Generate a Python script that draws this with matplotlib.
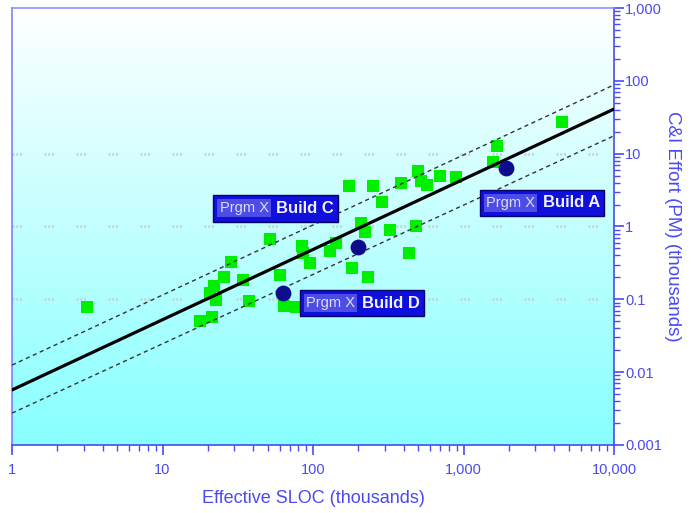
import numpy as np
import matplotlib.pyplot as plt
from matplotlib.ticker import FixedLocator, LogLocator, NullFormatter
from matplotlib.offsetbox import TextArea, HPacker, PaddedBox, AnnotationBbox

plt.rcParams["font.family"] = ["Liberation Sans", "DejaVu Sans"]

# historical projects (thousands SLOC, thousands PM)
hist_sloc = [3.13, 17.7, 21.3, 20.8, 21.9, 22.6, 25.6, 28.7, 34.2, 37.3, 51.5, 60, 63.7, 76.5,
             83.9, 85.2, 94.8, 130, 142.6, 182, 231, 173, 249, 209, 220, 288, 325, 385, 437,
             482, 496, 522, 575, 698, 891, 1560, 1667, 4540]
hist_effort = [0.079, 0.051, 0.0566, 0.121, 0.152, 0.098, 0.205, 0.329, 0.184, 0.096, 0.675,
               0.216, 0.081, 0.078, 0.54, 0.432, 0.318, 0.466, 0.588, 0.267, 0.205, 3.6, 3.6,
               1.13, 0.85, 2.19, 0.895, 3.96, 0.436, 1.0, 5.87, 4.28, 3.77, 5.0, 4.74, 7.76,
               12.7, 26.8]

# builds of Prgm X
build_names = ["Build A", "Build C", "Build D"]
build_sloc = [1906, 198, 63]
build_effort = [6.3, 0.52, 0.121]
label_offsets = [(26, -25), (-59, 28), (57, -7)]  # points from marker

# trend line and its band
fit_x = [1, 10000]
fit_y = [0.0057, 41]
upper_y = [0.0125, 88]
lower_y = [0.00274, 17.6]

blue = "#4a4af0"
fig = plt.figure(figsize=(6.91, 5.13), dpi=100)
ax = fig.add_axes([0.0174, 0.1326, 0.8712, 0.8518])
ax.set_xscale("log")
ax.set_yscale("log")
ax.set_xlim(1, 10000)
ax.set_ylim(0.001, 1000)

# white-to-cyan background
grad = np.linspace(0, 1, 256).reshape(-1, 1)
top = np.array([1.0, 1.0, 1.0])
bot = np.array([0.53, 1.0, 1.0])
img = top + (bot - top) * grad[:, :, None]
ax.imshow(img, extent=[0, 1, 0, 1], transform=ax.transAxes, aspect="auto", zorder=0)

for gy in [0.1, 1, 10]:
    ax.axhline(gy, color="#c8d0d0", lw=1.8, ls=(0, (0.8, 0.7, 0.8, 0.7, 0.8, 9)), zorder=1)

ax.plot(fit_x, upper_y, color="#333333", lw=1.0, ls=(0, (3, 2.5)), zorder=3)
ax.plot(fit_x, lower_y, color="#333333", lw=1.0, ls=(0, (3, 2.5)), zorder=3)
ax.scatter(hist_sloc, hist_effort, marker="s", s=72, color="#00ee00", zorder=2, linewidths=0)
ax.plot(fit_x, fit_y, color="black", lw=2.3, zorder=4)
ax.scatter(build_sloc, build_effort, marker="o", s=130, color="#0c0c8c", zorder=5, linewidths=0)

for name, bx, by, off in zip(build_names, build_sloc, build_effort, label_offsets):
    prg = TextArea("Prgm X", textprops=dict(color="#dcdcff", fontsize=10.5))
    prg_box = PaddedBox(prg, pad=1.5, draw_frame=True,
                        patch_attrs=dict(facecolor="#4d4de6", edgecolor="none"))
    bld = TextArea(name, textprops=dict(color="#f0f0ff", fontsize=12, fontweight="bold"))
    pack = HPacker(children=[prg_box, bld], align="center", pad=0, sep=4)
    ab = AnnotationBbox(pack, (bx, by), xybox=off, boxcoords="offset points",
                        frameon=True, pad=0.3, zorder=6,
                        bboxprops=dict(facecolor="#1010dd", edgecolor="#000066", lw=1))
    ax.add_artist(ab)

# axes styling
ax.yaxis.tick_right()
ax.yaxis.set_label_position("right")
for s in ax.spines.values():
    s.set_color(blue)
    s.set_linewidth(1.2)
ax.spines["left"].set_color("#8080ff")
ax.spines["top"].set_color("#9090ff")

ax.xaxis.set_major_locator(FixedLocator([1, 10, 100, 1000, 10000]))
ax.xaxis.set_minor_locator(LogLocator(base=10, subs=np.arange(2, 10)))
ax.xaxis.set_minor_formatter(NullFormatter())
ax.set_xticklabels(["1", "10", "100", "1,000", "10,000"])
ax.yaxis.set_major_locator(FixedLocator([0.001, 0.01, 0.1, 1, 10, 100, 1000]))
ax.yaxis.set_minor_locator(LogLocator(base=10, subs=np.arange(2, 10)))
ax.yaxis.set_minor_formatter(NullFormatter())
ax.set_yticklabels(["0.001", "0.01", "0.1", "1", "10", "100", "1,000"])

ax.tick_params(which="major", direction="out", length=7, width=1.2, color=blue,
               labelcolor=blue, labelsize=10.5, pad=1)
ax.tick_params(which="minor", direction="out", length=4, width=1.0, color=blue)
ax.tick_params(axis="x", which="major", pad=6)

ax.set_xlabel("Effective SLOC (thousands)", color=blue, fontsize=13, labelpad=9)
ax.set_ylabel("C&I Effort (PM) (thousands)", color=blue, fontsize=13.5,
              rotation=270, labelpad=14)

fig.savefig("out.png", dpi=100)
